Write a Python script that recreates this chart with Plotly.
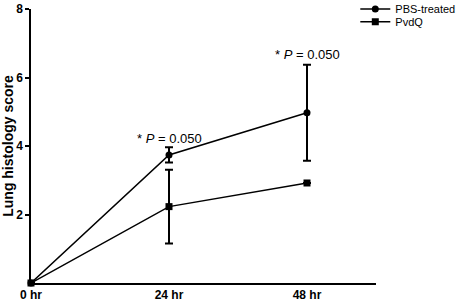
import plotly.graph_objects as go

time_hr = [0, 24, 48]
tick_labels = ["0 hr", "24 hr", "48 hr"]
pbs_mean = [0, 3.74, 4.97]
pbs_err = [0, 0.22, 1.40]
pvdq_mean = [0, 2.23, 2.92]
pvdq_err = [0, 1.08, 0]
annot_x = [24, 48]
annot_y = [4.23, 6.66]
annot_text = ["0.050", "0.050"]

font = "Arial, Liberation Sans, sans-serif"

fig = go.Figure()
fig.add_trace(go.Scatter(
    x=time_hr, y=pbs_mean, name="PBS-treated", mode="lines+markers",
    line=dict(color="black", width=1.5),
    marker=dict(symbol="circle", size=7, color="black"),
    error_y=dict(type="data", array=pbs_err, color="black", thickness=2, width=4),
    cliponaxis=False, legend="legend",
))
fig.add_trace(go.Scatter(
    x=time_hr, y=pvdq_mean, name="PvdQ", mode="lines+markers",
    line=dict(color="black", width=1.5),
    marker=dict(symbol="square", size=7, color="black"),
    error_y=dict(type="data", array=pvdq_err, color="black", thickness=2, width=4),
    cliponaxis=False, legend="legend2",
))

for xa, ya, t in zip(annot_x, annot_y, annot_text):
    fig.add_annotation(x=xa, y=ya, text="* <i>P</i> = " + t, showarrow=False,
                       font=dict(family=font, size=13, color="black"))

legend_common = dict(xanchor="left", yanchor="top",
                     font=dict(family=font, size=11, color="black"),
                     itemwidth=30, bgcolor="rgba(0,0,0,0)", borderwidth=0)

fig.update_layout(
    width=459, height=302,
    margin=dict(l=31, r=83, t=9, b=19, autoexpand=False),
    paper_bgcolor="white", plot_bgcolor="white",
    font=dict(family=font, color="black"),
    showlegend=True,
    legend=dict(x=0.94, y=1.053, **legend_common),
    legend2=dict(x=0.94, y=1.006, **legend_common),
    xaxis=dict(range=[0, 60], tickvals=time_hr, ticktext=tick_labels, automargin=False,
               showgrid=False, zeroline=False, showline=True, linecolor="black", linewidth=1.5,
               ticks="", tickfont=dict(family=font, size=12, color="black", weight="bold")),
    yaxis=dict(range=[0, 8], tickvals=[2, 4, 6, 8], automargin=False,
               showgrid=False, zeroline=False, showline=True, linecolor="black", linewidth=1.5,
               ticks="outside", ticklen=4, tickwidth=1.5, tickcolor="black",
               tickfont=dict(family=font, size=12, color="black", weight="bold"),
               title=dict(text="<b>Lung histology score</b>", standoff=6,
                          font=dict(family=font, size=14, color="black"))),
)

fig.write_html("out.html", config={"displayModeBar": False},
               post_script="document.body.style.margin='0';")
